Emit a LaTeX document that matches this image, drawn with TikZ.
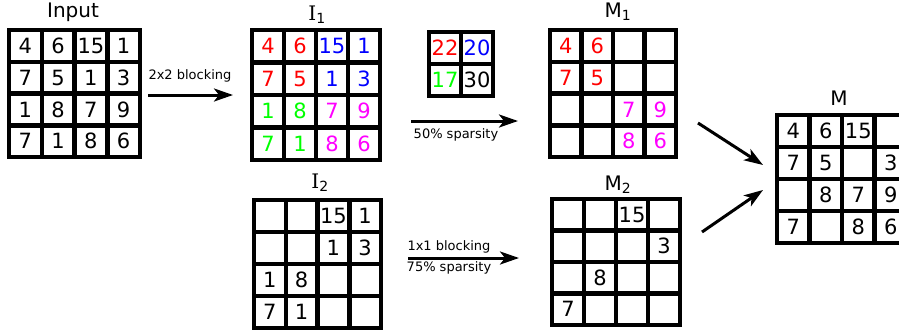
\documentclass[tikz,border=0pt]{standalone}
\usepackage{fontspec}
\setmainfont{DejaVu Sans}
\newfontfamily\serifI{DejaVu Serif}
\usetikzlibrary{calc,arrows.meta}
\definecolor{cred}{RGB}{255,0,0}
\definecolor{cblue}{RGB}{0,0,255}
\definecolor{cgreen}{RGB}{0,255,0}
\definecolor{cmag}{RGB}{255,0,255}
\tikzset{
  frame/.style={draw, line width=4.5pt, inner sep=0pt, outer sep=0pt},
  gridline/.style={line width=4.5pt},
  num/.style={font=\fontsize{21}{21}\selectfont, inner sep=0pt},
  title/.style={font=\fontsize{20}{20}\selectfont, inner sep=0pt, anchor=base},
  lab/.style={font=\fontsize{13}{13}\selectfont, inner sep=0pt, anchor=base},
  arr/.style={line width=3pt, -{Stealth[length=19pt,width=13pt,inset=5pt]}},
}
\newcommand\drawgrid[6]{%
  \node[frame, minimum width={(#4-#2)*1pt}, minimum height={(#5-#3)*1pt}, anchor=north west] (#1) at (#2,#3) {};
  \pgfmathtruncatemacro\gridlast{#6-1}
  \foreach \k in {1,...,\gridlast}{
    \draw[gridline] ($(#1.north west)!\k/#6!(#1.north east)$) -- ($(#1.south west)!\k/#6!(#1.south east)$);
    \draw[gridline] ($(#1.north west)!\k/#6!(#1.south west)$) -- ($(#1.north east)!\k/#6!(#1.south east)$);
  }
}
\newcommand\cell[6]{%
  \path let \p1=(#1.north west), \p2=(#1.south east) in
    node[num, text=#5] (#1-#3-#4) at ({\x1+(#4-0.5)*(\x2-\x1)/#2},{\y1+(#3-0.5)*(\y2-\y1)/#2}) {#6};
}
\newcommand\cells[3]{\foreach \r/\c/\cl/\v in {#3}{\cell{#1}{#2}{\r}{\c}{\cl}{\v}}}
\begin{document}
\begin{tikzpicture}[x=1pt,y=-1pt]
\useasboundingbox (0,0) rectangle (899,335);
\fill[white] (0,0) rectangle (899,335);
\clip (0,0) rectangle (899,335);

% grids
\drawgrid{in}{9}{30}{140}{157}{4}
\drawgrid{ia}{252}{30}{380}{160}{4}
\drawgrid{sm}{429}{32}{493}{96}{2}
\drawgrid{ma}{550}{30}{676}{157}{4}
\drawgrid{ib}{254}{200}{381}{328}{4}
\drawgrid{mb}{552}{199}{680}{325}{4}
\drawgrid{mm}{777}{115}{907}{243}{4}

% titles
\node[title] (tin) at (73,17.5) {Input};
\node[title] (tia) at (317,20) {{\serifI I}\textsubscript{1}};
\node[title] (tma) at (618,17.5) {M\textsubscript{1}};
\node[title] (tib) at (320,188) {{\serifI I}\textsubscript{2}};
\node[title] (tmb) at (618,190) {M\textsubscript{2}};
\node[title] (tmm) at (839,105) {M};

% values
\cells{in}{4}{1/1/black/4,1/2/black/6,1/3/black/15,1/4/black/1,
  2/1/black/7,2/2/black/5,2/3/black/1,2/4/black/3,
  3/1/black/1,3/2/black/8,3/3/black/7,3/4/black/9,
  4/1/black/7,4/2/black/1,4/3/black/8,4/4/black/6}
\cells{ia}{4}{1/1/cred/4,1/2/cred/6,1/3/cblue/15,1/4/cblue/1,
  2/1/cred/7,2/2/cred/5,2/3/cblue/1,2/4/cblue/3,
  3/1/cgreen/1,3/2/cgreen/8,3/3/cmag/7,3/4/cmag/9,
  4/1/cgreen/7,4/2/cgreen/1,4/3/cmag/8,4/4/cmag/6}
\cells{sm}{2}{1/1/cred/22,1/2/cblue/20,2/1/cgreen/17,2/2/black/30}
\cells{ma}{4}{1/1/cred/4,1/2/cred/6,2/1/cred/7,2/2/cred/5,
  3/3/cmag/7,3/4/cmag/9,4/3/cmag/8,4/4/cmag/6}
\cells{ib}{4}{1/3/black/15,1/4/black/1,2/3/black/1,2/4/black/3,
  3/1/black/1,3/2/black/8,4/1/black/7,4/2/black/1}
\cells{mb}{4}{1/3/black/15,2/4/black/3,3/2/black/8,4/1/black/7}
\cells{mm}{4}{1/1/black/4,1/2/black/6,1/3/black/15,
  2/1/black/7,2/2/black/5,2/4/black/3,
  3/2/black/8,3/3/black/7,3/4/black/9,
  4/1/black/7,4/3/black/8,4/4/black/6}

% arrows
\coordinate (a1s) at (148,95);  \coordinate (a1e) at (233,95);
\coordinate (a2s) at (411,121); \coordinate (a2e) at (518,121);
\coordinate (a3s) at (408,258); \coordinate (a3e) at (519,258);
\coordinate (a4s) at (698,123); \coordinate (a4e) at (763,165);
\coordinate (a5s) at (702,232); \coordinate (a5e) at (763,190);
\draw[arr] (a1s) -- (a1e);
\draw[arr] (a2s) -- (a2e);
\draw[arr] (a3s) -- (a3e);
\draw[arr] (a4s) -- (a4e);
\draw[arr] (a5s) -- (a5e);

% labels
\node[lab] (l1) at (190,79.3) {2x2 blocking};
\node[lab] (l2) at (456,138.5) {50\% sparsity};
\node[lab] (l3) at (449,250) {1x1 blocking};
\node[lab] (l4) at (449,271.7) {75\% sparsity};
\end{tikzpicture}
\end{document}
